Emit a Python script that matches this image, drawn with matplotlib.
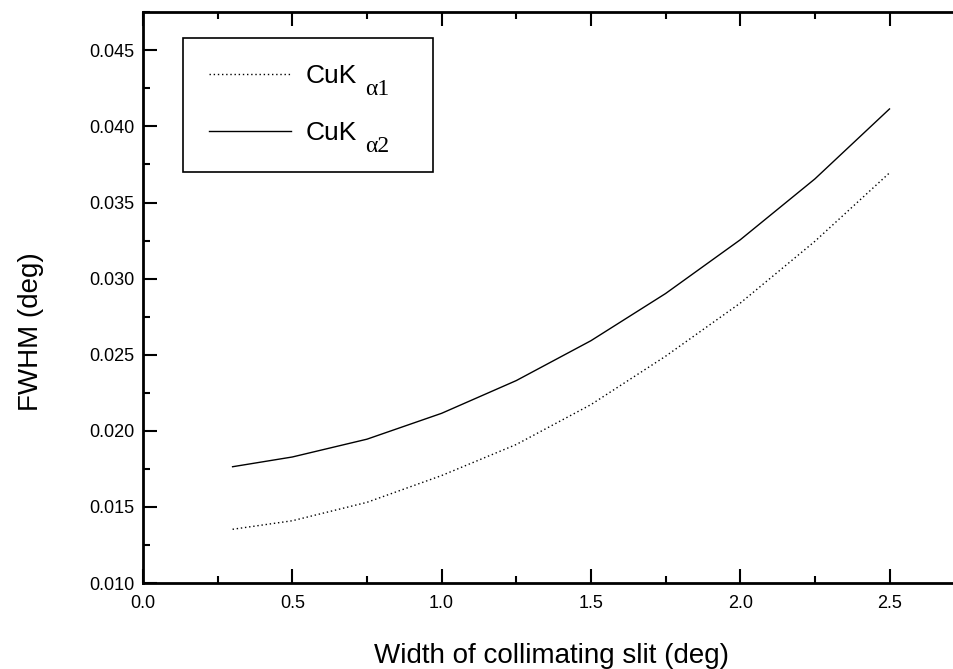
import numpy as np
import matplotlib
matplotlib.use('Agg')
import matplotlib.pyplot as plt
from matplotlib.ticker import MultipleLocator, FormatStrFormatter

plt.rcParams['font.family'] = ['Liberation Sans', 'DejaVu Sans']

# slit width (deg)
slit = [0.3, 0.5, 0.75, 1.0, 1.25, 1.5, 1.75, 2.0, 2.25, 2.5]
# FWHM (deg)
fwhm_ka1 = [0.01353, 0.01409, 0.01530, 0.01706, 0.01910, 0.02172, 0.02490, 0.02839, 0.03245, 0.03695]
fwhm_ka2 = [0.01764, 0.01828, 0.01945, 0.02115, 0.02330, 0.02592, 0.02902, 0.03255, 0.03655, 0.04115]

labels = ['CuK', 'CuK']
subs = ['\u03b11', '\u03b12']

fig = plt.figure(figsize=(9.54, 6.69), dpi=100)
ax = fig.add_axes([143 / 954, 86 / 669, 811 / 954, 571 / 669])

ax.plot(slit, fwhm_ka1, color='black', lw=1.0, ls=(0, (1, 2)), label=labels[0])
ax.plot(slit, fwhm_ka2, color='black', lw=1.0, ls='-', label=labels[1])

ax.set_xlim(0, 2.716)
ax.set_ylim(0.010, 0.04752)

ax.xaxis.set_major_locator(MultipleLocator(0.5))
ax.xaxis.set_minor_locator(MultipleLocator(0.25))
ax.yaxis.set_major_locator(MultipleLocator(0.005))
ax.yaxis.set_minor_locator(MultipleLocator(0.0025))
ax.xaxis.set_major_formatter(FormatStrFormatter('%.1f'))
ax.yaxis.set_major_formatter(FormatStrFormatter('%.3f'))

ax.spines['right'].set_visible(False)
for s in ['left', 'bottom', 'top']:
    ax.spines[s].set_linewidth(2)

ax.tick_params(which='both', direction='in', top=True, right=False, width=1.5)
ax.tick_params(which='major', length=10, labelsize=13, pad=6)
ax.tick_params(which='minor', length=5)
ax.tick_params(axis='x', which='major', pad=9)

ax.set_xlabel('Width of collimating slit (deg)', fontsize=20)
ax.set_ylabel('FWHM (deg)', fontsize=20)
ax.xaxis.set_label_coords(0.504, -0.105)
ax.yaxis.set_label_coords(-0.122, 0.441)

leg = ax.legend(loc='upper left', bbox_to_anchor=(0.049, 0.718, 0.309, 0.2365),
                mode='expand', fontsize=19, frameon=True, fancybox=False,
                framealpha=1, edgecolor='black', handlelength=3.1,
                handletextpad=0.55, borderpad=1.0, labelspacing=1.25,
                borderaxespad=0)
leg.get_frame().set_linewidth(1.2)

fig.canvas.draw()

# greek subscripts, lowered below the baseline like the original
for t, s in zip(leg.get_texts(), subs):
    ax.annotate(s, xy=(1, 0), xycoords=t, xytext=(6, -5),
                textcoords='offset points', va='baseline', ha='left',
                fontsize=17, family=['Liberation Serif', 'DejaVu Serif'],
                zorder=10)

fig.savefig('out.png', dpi=100)
